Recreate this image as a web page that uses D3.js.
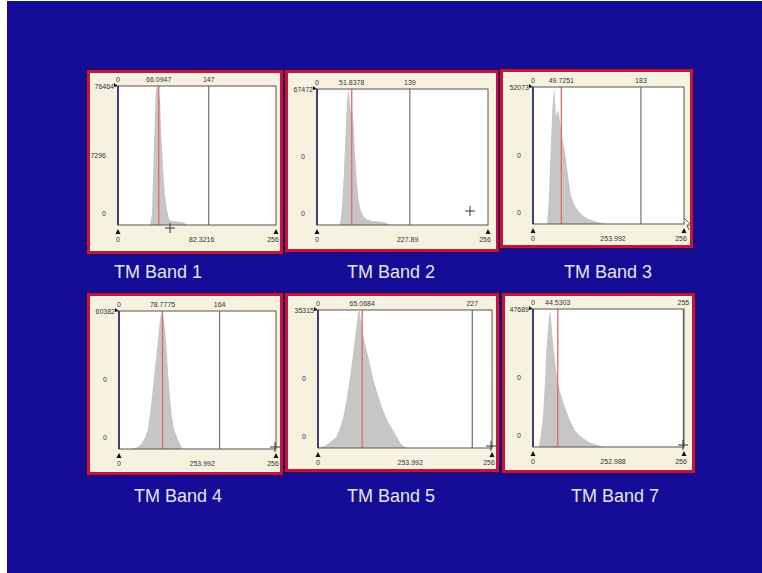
<!DOCTYPE html>
<html>
<head>
<meta charset="utf-8">
<script src="https://cdn.jsdelivr.net/npm/d3@7"></script>
<style>
  html, body { margin: 0; padding: 0; background: #fff; }
  svg { display: block; }
</style>
</head>
<body>
<svg id="chart" width="762" height="573"></svg>
<script>
// band names and the texts printed by the histogram tool
const bandNames = ["TM Band 1", "TM Band 2", "TM Band 3", "TM Band 4", "TM Band 5", "TM Band 7"];
const maxCountLabels = ["76464", "67472", "52073", "60382", "35315", "47689"];
const midCountLabels = ["7296", "0", "0", "0", "0", "0"];
const meanLabels = ["66.0947", "51.8378", "49.7251", "78.7775", "65.0684", "44.5303"];
const upperLabels = ["147", "139", "183", "164", "227", "255"];
const spreadLabels = ["82.3216", "227.89", "253.992", "253.992", "253.992", "252.988"];

// DN positions of the red (mean) line and grey (upper) line
const meanDN = [66, 52, 48, 71, 65, 42];
const upperDN = [147, 139, 183, 164, 227, 255];

// histograms: [DN, count relative to peak]
const band1Hist = [[52, 0], [55, 0.08], [58, 0.53], [61, 0.94], [63, 1.0], [65, 0.98], [68, 0.9], [70, 0.66], [73, 0.41], [76, 0.22], [79, 0.12], [82, 0.05], [85, 0.03], [95, 0.025], [104, 0.02], [108, 0.015], [111, 0]];
const band2Hist = [[34, 0], [37, 0.1], [40, 0.35], [43, 0.7], [45, 0.92], [47, 1.0], [49, 0.9], [51, 0.82], [53, 0.84], [55, 0.72], [57, 0.52], [59, 0.36], [61, 0.24], [63, 0.16], [66, 0.1], [70, 0.06], [75, 0.04], [82, 0.03], [92, 0.025], [102, 0.02], [107, 0.01], [110, 0]];
const band3Hist = [[24, 0], [27, 0.2], [30, 0.55], [33, 0.85], [36, 1.0], [38, 0.86], [39, 0.77], [41, 0.83], [44, 0.8], [47, 0.7], [51, 0.6], [54, 0.53], [58, 0.4], [61, 0.3], [64, 0.21], [70, 0.14], [76, 0.1], [82, 0.07], [92, 0.04], [105, 0.02], [115, 0.01], [122, 0]];
const band4Hist = [[18, 0], [25, 0.005], [32, 0.02], [37, 0.04], [42, 0.08], [47, 0.14], [51, 0.27], [55, 0.43], [59, 0.6], [62, 0.72], [65, 0.86], [67, 0.94], [70, 1.0], [73, 0.94], [75, 0.87], [78, 0.7], [80, 0.55], [83, 0.38], [86, 0.24], [90, 0.14], [96, 0.07], [100, 0.03], [104, 0]];
const band5Hist = [[2, 0], [6, 0.01], [12, 0.02], [20, 0.05], [27, 0.08], [32, 0.14], [37, 0.22], [42, 0.35], [47, 0.51], [51, 0.66], [54, 0.78], [57, 0.9], [59, 0.98], [61, 1.0], [63, 0.93], [66, 0.83], [70, 0.74], [74, 0.66], [78, 0.57], [83, 0.47], [89, 0.37], [96, 0.27], [103, 0.19], [110, 0.13], [116, 0.08], [122, 0.03], [127, 0.01], [132, 0]];
const band7Hist = [[10, 0], [13, 0.08], [17, 0.22], [20, 0.45], [22, 0.65], [25, 0.83], [28, 0.97], [29, 1.0], [31, 0.9], [34, 0.75], [38, 0.6], [42, 0.46], [48, 0.37], [54, 0.29], [62, 0.2], [71, 0.12], [80, 0.08], [93, 0.04], [105, 0.02], [115, 0.005], [122, 0]];
const histograms = [band1Hist, band2Hist, band3Hist, band4Hist, band5Hist, band7Hist];

// layout: frame box, plot box (x0, y0, x1, y1), title centre, cursor mark
const layout = [
  { frame: [87, 70, 196, 184], plot: [118, 86, 276, 225], title: [158, 272], cross: [170, 228] },
  { frame: [285, 70, 214, 182], plot: [317, 89, 488, 225], title: [391, 272], cross: [470, 211] },
  { frame: [500, 69, 193, 179], plot: [533, 87, 684, 224], title: [608, 272], cross: null },
  { frame: [87, 293, 196, 182], plot: [119, 311, 276, 449], title: [178, 496], cross: [275, 447] },
  { frame: [285, 293, 214, 179], plot: [318, 310, 492, 448], title: [391, 496], cross: [491, 446] },
  { frame: [502, 293, 193, 180], plot: [533, 309, 684, 447], title: [615, 496], cross: [683, 445] }
];

const svg = d3.select("#chart");
const W = 762, H = 573;

// blue slide background with white strip on the left
svg.append("rect").attr("width", W).attr("height", H).attr("fill", "#fff");
svg.append("rect").attr("x", 7).attr("y", 1).attr("width", W - 7).attr("height", H - 1).attr("fill", "#140c96");

const fontSmall = "Liberation Sans, Arial, sans-serif";

layout.forEach((L, i) => {
  const [fx, fy, fw, fh] = L.frame;
  const [px0, py0, px1, py1] = L.plot;
  const g = svg.append("g");

  // panel frame
  g.append("rect").attr("x", fx - 1).attr("y", fy - 1).attr("width", fw + 2).attr("height", fh + 2)
    .attr("fill", "none").attr("stroke", "#2a0a50").attr("stroke-width", 1);
  g.append("rect").attr("x", fx + 1.5).attr("y", fy + 1.5).attr("width", fw - 3).attr("height", fh - 3)
    .attr("fill", "#f6f2df").attr("stroke", "#c4143e").attr("stroke-width", 3);

  const x = d3.scaleLinear().domain([0, 256]).range([px0, px1]);
  const y = d3.scaleLinear().domain([0, 1]).range([py1, py0]);

  // plot area
  g.append("rect").attr("x", px0).attr("y", py0).attr("width", px1 - px0).attr("height", py1 - py0)
    .attr("fill", "#fff");

  // histogram
  const area = d3.area()
    .x(d => x(d[0]))
    .y0(y(0))
    .y1(d => y(d[1]));
  g.append("path").datum(histograms[i]).attr("fill", "#c6c6c6").attr("d", area);

  // upper grey line and red mean line
  g.append("line").attr("x1", x(upperDN[i])).attr("x2", x(upperDN[i]))
    .attr("y1", py0).attr("y2", py1).attr("stroke", "#707070").attr("stroke-width", 1.2);
  g.append("line").attr("x1", x(meanDN[i])).attr("x2", x(meanDN[i]))
    .attr("y1", py0).attr("y2", py1).attr("stroke", "#e06868").attr("stroke-width", 1.3);

  // axes frame
  g.append("rect").attr("x", px0).attr("y", py0).attr("width", px1 - px0).attr("height", py1 - py0)
    .attr("fill", "none").attr("stroke", "#555").attr("stroke-width", 1);
  g.append("line").attr("x1", px0).attr("x2", px0).attr("y1", py0).attr("y2", py1)
    .attr("stroke", "#1c1c6a").attr("stroke-width", 1.5);

  const txt = (tx, ty, s, anchor) => g.append("text")
    .attr("x", tx).attr("y", ty).attr("text-anchor", anchor || "middle")
    .attr("font-family", fontSmall).attr("font-size", 7).attr("fill", "#333")
    .text(s);

  // top labels
  txt(x(0), py0 - 4, "0");
  txt(x(meanDN[i]), py0 - 4, meanLabels[i]);
  txt(x(upperDN[i]), py0 - 4, upperLabels[i]);

  // y labels
  txt(px0 - 4, py0 + 3, maxCountLabels[i], "end");
  g.append("path").attr("d", `M${px0 - 4},${py0 - 3}L${px0},${py0}L${px0 - 4},${py0 + 1}Z`).attr("fill", "#111");
  txt(px0 - 12, y(0.5) + 2, midCountLabels[i], "end");
  txt(px0 - 12, y(0.08) + 2, "0", "end");

  // bottom labels with markers
  [0, 256].forEach(v => {
    g.append("path").attr("d", `M${x(v) - 2.5},${py1 + 9}L${x(v)},${py1 + 4}L${x(v) + 2.5},${py1 + 9}Z`).attr("fill", "#111");
  });
  txt(x(0), py1 + 17, "0");
  txt(x(256) - 3, py1 + 17, "256");
  txt(px0 + (px1 - px0) * 0.53, py1 + 17, spreadLabels[i]);

  // cursor marks
  if (L.cross) {
    const [cx, cy] = L.cross;
    g.append("path").attr("d", `M${cx - 5},${cy}H${cx + 5}M${cx},${cy - 5}V${cx === 0 ? 0 : cy + 5}`)
      .attr("stroke", "#333").attr("stroke-width", 1).attr("fill", "none");
  } else {
    g.append("path").attr("d", `M${px1},${py1 - 6}L${px1 + 7},${py1 + 1}L${px1 + 3},${py1 + 1}L${px1 + 5},${py1 + 6}`)
      .attr("stroke", "#555").attr("stroke-width", 1).attr("fill", "#fff");
  }

  // band title
  svg.append("text").attr("x", L.title[0]).attr("y", L.title[1] + 6)
    .attr("text-anchor", "middle").attr("font-family", fontSmall).attr("font-size", 18)
    .attr("fill", "#e4e4f0").text(bandNames[i]);
});
</script>
</body>
</html>
